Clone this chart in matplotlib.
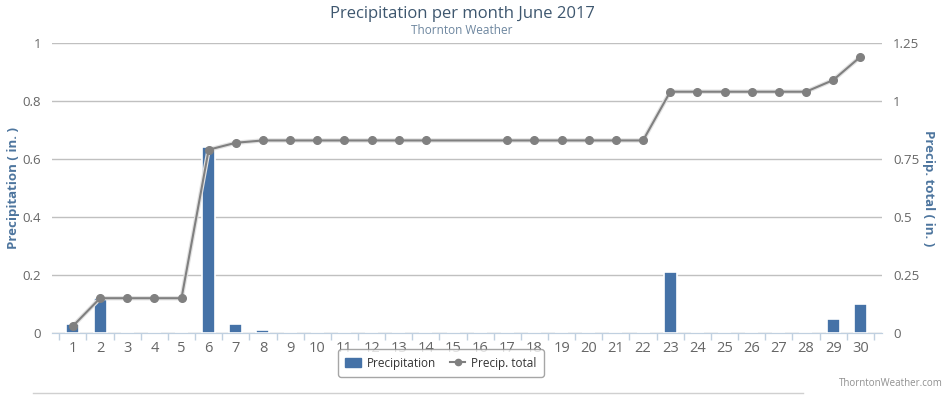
import numpy as np
import matplotlib
matplotlib.use('Agg')
from matplotlib import pyplot as plt
from matplotlib.lines import Line2D
from matplotlib.patches import Patch

days = list(range(1, 31))
precip = [0.03, 0.12, 0, 0, 0, 0.64, 0.03, 0.01, 0, 0,
          0, 0, 0, 0, 0, 0, 0, 0, 0, 0,
          0, 0, 0.21, 0, 0, 0, 0, 0, 0.05, 0.10]
total = [0.03, 0.15, 0.15, 0.15, 0.15, 0.79, 0.82, 0.83, 0.83, 0.83,
         0.83, 0.83, 0.83, 0.83, None, None, 0.83, 0.83, 0.83, 0.83,
         0.83, 0.83, 1.04, 1.04, 1.04, 1.04, 1.04, 1.04, 1.09, 1.19]
left_ticks = [0, 0.2, 0.4, 0.6, 0.8, 1]
left_labels = ['0', '0.2', '0.4', '0.6', '0.8', '1']
right_ticks = [0, 0.25, 0.5, 0.75, 1, 1.25]
right_labels = ['0', '0.25', '0.5', '0.75', '1', '1.25']

plt.rcParams['font.family'] = ['Open Sans', 'DejaVu Sans']

W, H = 951, 395
fig = plt.figure(figsize=(W / 100, H / 100), dpi=100)
ax = fig.add_axes([52 / W, 62 / H, 830 / W, 290 / H])
ax2 = ax.twinx()

bar_color = '#4572A7'
line_color = '#808080'
label_color = '#666666'
title_axis_color = '#4d759e'

x = np.arange(len(days))
ax.bar(x, precip, width=0.48, color=bar_color, edgecolor='white', linewidth=1.2, zorder=3)

tx = [i for i, v in enumerate(total) if v is not None]
ty = [v for v in total if v is not None]
ax2.plot(tx, ty, color='#e2e2e2', lw=3.2, zorder=2, solid_capstyle='round')
ax2.plot(tx, ty, color=line_color, lw=1.5, marker='o', ms=5.5, zorder=4)

ax.set_xlim(-0.77, 29.8)
ax.set_ylim(0, 1)
ax2.set_ylim(0, 1.25)

ax.set_yticks(left_ticks)
ax.set_yticklabels(left_labels)
ax2.set_yticks(right_ticks)
ax2.set_yticklabels(right_labels)
ax.yaxis.grid(True, color='#C0C0C0', lw=1)
ax.set_axisbelow(True)

ax.set_xticks(x)
ax.set_xticklabels([str(d) for d in days])
ax.set_xticks(np.arange(-0.5, 30, 1), minor=True)
ax.tick_params(axis='x', which='major', length=0, pad=6, labelsize=10.5, labelcolor=label_color)
ax.tick_params(axis='x', which='minor', length=5, color='#C0D0E0', width=1)
ax.tick_params(axis='y', length=0, pad=8, labelsize=9.5, labelcolor=label_color)
ax2.tick_params(axis='y', length=0, pad=8, labelsize=9.5, labelcolor=label_color)

for a in (ax, ax2):
    for s in ('top', 'left', 'right'):
        a.spines[s].set_visible(False)
    a.spines['bottom'].set_color('#C0D0E0')

ax.set_ylabel('Precipitation ( in. )', color=title_axis_color, fontsize=9.5,
              fontweight='bold', va='center')
ax.yaxis.set_label_coords((14 - 52) / 830, 0.5)
ax2.set_ylabel('Precip. total ( in. )', color=title_axis_color, fontsize=9.5,
               fontweight='bold', rotation=270, va='center')
ax2.yaxis.set_label_coords((928 - 52) / 830, 0.5)

fig.text(462 / W, 1 - 14 / H, 'Precipitation per month June 2017', ha='center', va='center',
         fontsize=12, color='#3E576F')
fig.text(462 / W, 1 - 30 / H, 'Thornton Weather', ha='center', va='center',
         fontsize=8.5, color='#6D869F')
fig.text(943 / W, 1 - 384 / H, 'ThorntonWeather.com', ha='right', va='center',
         fontsize=7, color='#909090')

handles = [Patch(facecolor=bar_color, edgecolor=bar_color, label='Precipitation'),
           Line2D([], [], color=line_color, marker='o', ms=4.5, lw=1.5, label='Precip. total')]
leg = fig.legend(handles=handles, loc='center', bbox_to_anchor=(441 / W, 1 - 363 / H),
                 ncol=2, frameon=True, fancybox=True, fontsize=8.5, handlelength=1.3,
                 columnspacing=1.2, handletextpad=0.5, borderpad=0.6)
leg.get_frame().set_edgecolor('#909090')
leg.get_frame().set_linewidth(1)
for t in leg.get_texts():
    t.set_color('#333333')

fig.add_artist(Line2D([33 / W, 803 / W], [1 - 393 / H, 1 - 393 / H], color='#d0d0d0', lw=1))

fig.savefig('out.png', dpi=100)
